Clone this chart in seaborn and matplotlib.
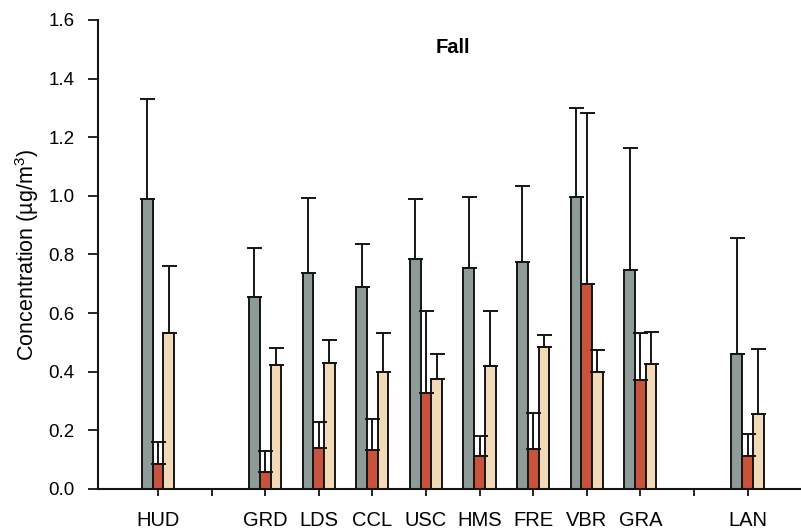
import numpy as np
import pandas as pd
import matplotlib
matplotlib.use("Agg")
import matplotlib.pyplot as plt
import seaborn as sns

# Sites in plotting order; blank entries leave gaps between site groups
sites = ["HUD", "", "GRD", "LDS", "CCL", "USC", "HMS", "FRE", "VBR", "GRA", " ", "LAN"]
measured_sites = ["HUD", "GRD", "LDS", "CCL", "USC", "HMS", "FRE", "VBR", "GRA", "LAN"]
series = ["A", "B", "C"]

# Mean concentrations (µg/m³)
mean_a = [0.99, 0.654, 0.736, 0.689, 0.785, 0.754, 0.776, 0.997, 0.747, 0.461]
mean_b = [0.085, 0.059, 0.141, 0.132, 0.326, 0.113, 0.135, 0.700, 0.371, 0.114]
mean_c = [0.533, 0.423, 0.431, 0.400, 0.376, 0.421, 0.486, 0.400, 0.426, 0.257]

# Top of the upper error bar (mean + SD)
upper_a = [1.331, 0.823, 0.994, 0.836, 0.990, 0.995, 1.035, 1.299, 1.162, 0.855]
upper_b = [0.159, 0.131, 0.228, 0.240, 0.607, 0.180, 0.259, 1.281, 0.533, 0.189]
upper_c = [0.760, 0.480, 0.507, 0.533, 0.461, 0.608, 0.527, 0.473, 0.537, 0.479]

y_ticks = [0.0, 0.2, 0.4, 0.6, 0.8, 1.0, 1.2, 1.4, 1.6]

colors = ["#8e9b98", "#c8533c", "#f2dab8"]

df = pd.DataFrame({
    "site": measured_sites * 3,
    "series": np.repeat(series, len(measured_sites)),
    "mean": mean_a + mean_b + mean_c,
    "upper": upper_a + upper_b + upper_c,
})

sns.set_theme(style="ticks")
plt.rcParams["font.family"] = ["Liberation Sans", "DejaVu Sans"]
plt.rcParams["mathtext.fontset"] = "custom"
plt.rcParams["mathtext.rm"] = "Liberation Sans"
plt.rcParams["mathtext.default"] = "rm"
for key in ("text.color", "axes.labelcolor", "xtick.color", "ytick.color"):
    plt.rcParams[key] = "black"

fig = plt.figure(figsize=(8.01, 5.30), dpi=100)
ax = fig.add_axes([0.1223, 0.0774, 0.8765, 0.8849])

sns.barplot(data=df, x="site", y="mean", hue="series", order=sites,
            hue_order=series, palette=colors, width=0.6, errorbar=None,
            edgecolor="#151515", linewidth=1.4, saturation=1, legend=False,
            ax=ax)

# Upper-only error bars placed on each drawn bar
for level, container in zip(series, ax.containers):
    sub = df[df["series"] == level].set_index("site")
    for bar in container:
        h = bar.get_height()
        if not np.isfinite(h):
            continue
        xc = bar.get_x() + bar.get_width() / 2
        site = sites[int(round(xc))]
        top = sub.loc[site, "upper"]
        ax.errorbar([xc], [h], yerr=[[0], [top - h]], fmt="none",
                    ecolor="#151515", elinewidth=1.4, capsize=5.4,
                    capthick=1.4, zorder=1)

ax.set_xlim(-1.12, 11.98)
ax.set_ylim(0, 1.6)
ax.set_yticks(y_ticks)
ax.set_yticklabels([f"{t:.1f}" for t in y_ticks])
ax.tick_params(axis="y", labelsize=13.5, length=7, width=1.3, color="#151515",
               pad=10)
ax.tick_params(axis="x", labelsize=14.5, length=5, width=1.3, color="#151515",
               pad=11)
ax.set_xlabel("")
ax.set_ylabel("Concentration (µg/m$^3$)", fontsize=15.5, labelpad=5)
for s in ("top", "right"):
    ax.spines[s].set_visible(False)
for s in ("left", "bottom"):
    ax.spines[s].set_linewidth(1.5)
    ax.spines[s].set_color("#151515")

ax.text(0.506, 0.942, "Fall", transform=ax.transAxes, ha="center",
        va="center", fontsize=14.5, fontweight="bold")

fig.savefig("out.png", dpi=100)
